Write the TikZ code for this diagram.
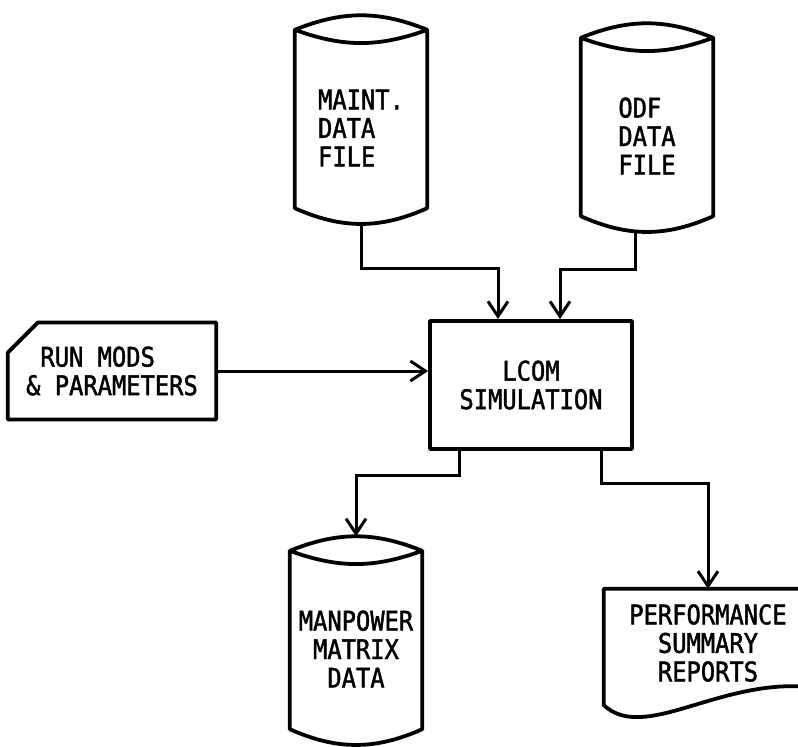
\documentclass[tikz,border=0pt]{standalone}
\usepackage{fontspec}
\setmonofont[FakeStretch=0.88, FakeBold=1.6]{DejaVu Sans Mono}
\usetikzlibrary{arrows.meta,shapes.misc}
\tikzset{
  shape line/.style={line width=3.8pt, line join=round},
  flow line/.style={line width=3pt, ->},
  data file/.style={minimum width=132pt, minimum height=160pt, inner sep=0pt},
  process box/.style={draw, shape line, minimum width=202pt, minimum height=128pt, align=center},
  run card/.style={draw, shape line, chamfered rectangle, chamfered rectangle corners=north west,
    chamfered rectangle xsep=15pt, chamfered rectangle ysep=15pt,
    minimum width=201pt, minimum height=97pt, align=left},
  report sheet/.style={minimum width=208pt, minimum height=108pt, align=center},
}
\begin{document}
\begin{tikzpicture}[x=1pt, y=-1pt, >={Straight Barb[length=15pt,width=20pt]},
    font=\ttfamily\fontsize{27}{28.5}\selectfont]
  \useasboundingbox (0,0) rectangle (798,747);
  % files and boxes
  \node[data file, align=left] (maint) at (361,128) {MAINT.\\DATA\\FILE};
  \node[data file, align=left] (odf) at (647,136) {ODF\\DATA\\FILE};
  \node[data file, align=center] (manpower) at (356,649) {MANPOWER\\MATRIX\\DATA};
  \node[process box] (lcom) at (531,385) {LCOM\\SIMULATION};
  \node[run card] (run) at (112,371) {\phantom{\&}RUN MODS\\\& PARAMETERS};
  \node[report sheet] (report) at (708,643) {PERFORMANCE\\SUMMARY\\REPORTS};
  % cylinder outlines
  \foreach \f in {maint,odf,manpower}
    \draw[shape line] ([yshift=18pt]\f.north west) coordinate (\f-nw) -- (\f.south west)
      to[bend right=24] coordinate[pos=.5] (\f-bot) (\f.south east)
      -- ([yshift=18pt]\f.north east) coordinate (\f-ne)
      to[bend right=22] coordinate[pos=.5] (\f-top) (\f-nw)
      to[bend right=20] (\f-ne);
  \draw[shape line] ([yshift=10pt]report.south east) -- (report.north east) -- (report.north west)
    -- ([yshift=-8pt]report.south west) .. controls +(41,38) and +(-92,-10) .. ([yshift=10pt]report.south east);
  % flow
  \draw[flow line] (maint-bot) -- ++(0,45) -| ([xshift=-33pt]lcom.north);
  \draw[flow line] ([xshift=-12pt]odf-bot) -- ++(0,38) -| ([xshift=29pt]lcom.north);
  \draw[flow line] (run.east) -- (run.east -| lcom.west);
  \draw[flow line] ([xshift=31pt]lcom.south west) -- ++(0,25) -| (manpower-top);
  \draw[flow line] ([xshift=-32pt]lcom.south east) -- ++(0,33) -| (report.north);
\end{tikzpicture}
\end{document}
